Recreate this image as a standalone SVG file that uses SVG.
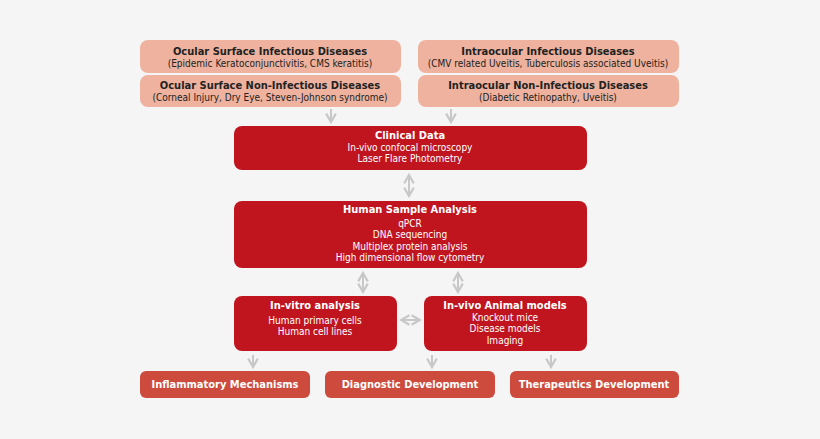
<svg xmlns="http://www.w3.org/2000/svg" width="820" height="439" viewBox="0 0 820 439">
<defs>
<style>
text{font-family:"DejaVu Sans Condensed","DejaVu Sans",sans-serif;text-anchor:middle;font-size:10px}
.t{fill:#222}.w{fill:#fff}.b{font-weight:bold;font-size:11px}
.p{fill:#eeb29e}.r{fill:#c0141f}.o{fill:#cd4b3c}
.c{stroke:#c8c8c8;stroke-width:2;fill:none}
</style>
<marker id="a" viewBox="0 0 10 10" refX="8" refY="5" markerWidth="6" markerHeight="6" orient="auto-start-reverse"><path d="M1 1L8 5L1 9" fill="none" stroke="#c8c8c8" stroke-width="1.8"/></marker>
</defs>
<rect width="820" height="439" fill="#f5f5f5"/>
<g id="connectors" class="c">
<line x1="331" y1="109" x2="331" y2="122" marker-end="url(#a)"/>
<line x1="451" y1="109" x2="451" y2="122" marker-end="url(#a)"/>
<line x1="409" y1="175" x2="409" y2="196" marker-start="url(#a)" marker-end="url(#a)"/>
<line x1="363" y1="273" x2="363" y2="292" marker-start="url(#a)" marker-end="url(#a)"/>
<line x1="458" y1="273" x2="458" y2="292" marker-start="url(#a)" marker-end="url(#a)"/>
<line x1="401" y1="320" x2="420" y2="320" marker-start="url(#a)" marker-end="url(#a)"/>
<line x1="253" y1="355" x2="253" y2="367" marker-end="url(#a)"/>
<line x1="432" y1="355" x2="432" y2="367" marker-end="url(#a)"/>
<line x1="551" y1="355" x2="551" y2="367" marker-end="url(#a)"/>
</g>
<g id="n1"><rect class="p" x="140" y="40" width="261" height="33" rx="8"/><text class="t b" x="270" y="55">Ocular Surface Infectious Diseases</text><text class="t" x="270" y="67">(Epidemic Keratoconjunctivitis, CMS keratitis)</text></g>
<g id="n2"><rect class="p" x="140" y="75" width="261" height="32" rx="8"/><text class="t b" x="270" y="89">Ocular Surface Non-Infectious Diseases</text><text class="t" x="270" y="101">(Corneal Injury, Dry Eye, Steven-Johnson syndrome)</text></g>
<g id="n3"><rect class="p" x="418" y="40" width="261" height="33" rx="8"/><text class="t b" x="548" y="55">Intraocular Infectious Diseases</text><text class="t" x="548" y="67">(CMV related Uveitis, Tuberculosis associated Uveitis)</text></g>
<g id="n4"><rect class="p" x="418" y="75" width="261" height="32" rx="8"/><text class="t b" x="548" y="89">Intraocular Non-Infectious Diseases</text><text class="t" x="548" y="101">(Diabetic Retinopathy, Uveitis)</text></g>
<g id="n5"><rect class="r" x="234" y="126" width="353" height="44" rx="8"/><text class="w b" x="410" y="139">Clinical Data</text><text class="w" x="410" y="151">In-vivo confocal microscopy</text><text class="w" x="410" y="162">Laser Flare Photometry</text></g>
<g id="n6"><rect class="r" x="234" y="201" width="353" height="67" rx="8"/><text class="w b" x="410" y="213">Human Sample Analysis</text><text class="w" x="410" y="227">qPCR</text><text class="w" x="410" y="238">DNA sequencing</text><text class="w" x="410" y="250">Multiplex protein analysis</text><text class="w" x="410" y="261">High dimensional flow cytometry</text></g>
<g id="n7"><rect class="r" x="234" y="296" width="163" height="55" rx="8"/><text class="w b" x="315" y="309">In-vitro analysis</text><text class="w" x="315" y="324">Human primary cells</text><text class="w" x="315" y="335">Human cell lines</text></g>
<g id="n8"><rect class="r" x="424" y="296" width="163" height="55" rx="8"/><text class="w b" x="505" y="309">In-vivo Animal models</text><text class="w" x="505" y="321">Knockout mice</text><text class="w" x="505" y="332">Disease models</text><text class="w" x="505" y="344">Imaging</text></g>
<g id="n9"><rect class="o" x="140" y="371" width="170" height="27" rx="6"/><text class="w b" x="225" y="388">Inflammatory Mechanisms</text></g>
<g id="n10"><rect class="o" x="325" y="371" width="170" height="27" rx="6"/><text class="w b" x="410" y="388">Diagnostic Development</text></g>
<g id="n11"><rect class="o" x="510" y="371" width="169" height="27" rx="6"/><text class="w b" x="594" y="388">Therapeutics Development</text></g>
</svg>
